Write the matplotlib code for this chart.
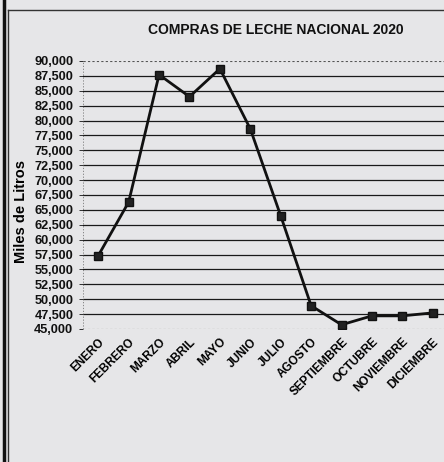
import numpy as np
import matplotlib.pyplot as plt
from matplotlib.lines import Line2D

meses = ['ENERO', 'FEBRERO', 'MARZO', 'ABRIL', 'MAYO', 'JUNIO', 'JULIO',
         'AGOSTO', 'SEPTIEMBRE', 'OCTUBRE', 'NOVIEMBRE', 'DICIEMBRE']
litros = [57300, 66300, 87700, 84000, 88700, 78600, 64000,
          48900, 45700, 47200, 47200, 47700]
yticks = list(range(45000, 90001, 2500))

BG = '#e6e6e8'
plt.rcParams.update({'font.family': ['Liberation Sans', 'DejaVu Sans']})

fig = plt.figure(figsize=(4.44, 4.62), dpi=100, facecolor=BG)
ax = fig.add_axes([0.187, 0.288, 0.822, 0.580])
ax.set_facecolor(BG)

x = np.arange(len(meses))
for v in yticks[1:-1]:
    ax.axhline(v, color='#1a1a1a', lw=0.9, zorder=1)
for v in (yticks[0], yticks[-1]):
    ax.axhline(v, color='#555555', lw=0.8, ls=(0, (2, 2)), zorder=1)

ax.plot(x, litros, color='#111111', lw=2.0, marker='s', ms=5.5,
        mfc='#222222', mec='#111111', zorder=3)

ax.set_xlim(-0.5, len(meses) - 0.5)
ax.set_ylim(45000, 90000)
ax.set_yticks(yticks)
ax.set_yticklabels([f'{v:,}' for v in yticks], fontsize=9.2, fontweight='bold')
ax.tick_params(axis='y', length=3, width=0.6, pad=4, colors='#111111')
ax.set_xticks(x)
ax.set_xticklabels(meses, rotation=45, ha='right', rotation_mode='anchor',
                   fontsize=8.5, fontweight='bold')
ax.tick_params(axis='x', length=0, pad=5)
for s in ax.spines.values():
    s.set_visible(False)
ax.axvline(-0.5, color='#777777', lw=0.6, ls=(0, (1.5, 2)), zorder=1)

ax.set_ylabel('Miles de Litros', fontsize=10.5, fontweight='bold')
ax.yaxis.set_label_coords(-0.15, 0.44)
fig.text(0.622, 0.935, 'COMPRAS DE LECHE NACIONAL 2020', ha='center',
         va='center', fontsize=10, fontweight='bold', color='#111111')

# scanned frame edges
fig.add_artist(Line2D([0.009, 0.009], [0, 1], color='#111111', lw=2.5))
fig.add_artist(Line2D([0.019, 0.019], [0, 0.978], color='#333333', lw=1.0))
fig.add_artist(Line2D([0.019, 1], [0.978, 0.978], color='#333333', lw=1.0))

fig.savefig('out.png', dpi=100, facecolor=BG)
